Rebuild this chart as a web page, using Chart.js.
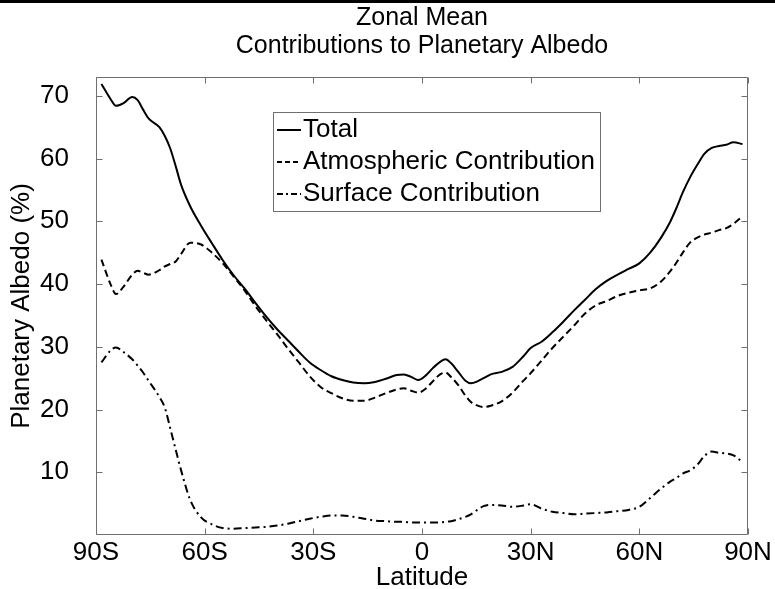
<!DOCTYPE html>
<html>
<head>
<meta charset="utf-8">
<title>Zonal Mean Albedo</title>
<script src="https://cdn.jsdelivr.net/npm/chart.js@4.4.1/dist/chart.umd.min.js"></script>
<style>
  html, body { margin: 0; padding: 0; background: #fff; }
  canvas { display: block; }
</style>
</head>
<body>
<canvas id="albedo" width="775" height="589"></canvas>
<script>
  // zonal means, degrees latitude (south negative)
  const latitudes = [
    -88.5, -86, -84.5, -82.5, -80, -78.5, -77, -75.5, -72.5, -71,
    -69.5, -68, -66.5, -64, -61, -58, -55, -52, -49, -46,
    -43, -40, -37, -34, -31, -28, -25, -22, -19, -16,
    -13, -10, -7, -5, -3, -1, 1, 3, 5, 6.5,
    8, 10, 12, 13.5, 15, 17, 19, 22, 25, 28,
    30, 33, 36, 39, 42, 45, 48, 51, 54, 57,
    60, 63, 66, 68.5, 70, 72, 74, 76, 78, 80,
    82, 84, 86, 88.5
  ];
  const total = [
    71.9, 69.5, 68.4, 68.8, 69.8, 69.3, 67.8, 66.4, 65.0, 63.6,
    61.6, 58.8, 55.8, 52.4, 49.3, 46.5, 43.8, 41.4, 39.3, 37.0,
    34.8, 32.8, 31.0, 29.2, 27.5, 26.3, 25.3, 24.7, 24.3, 24.2,
    24.4, 24.9, 25.5, 25.6, 25.2, 24.7, 25.4, 26.6, 27.6, 28.0,
    27.4, 26.0, 24.6, 24.2, 24.4, 25.0, 25.6, 26.0, 26.8, 28.5,
    29.8, 30.8, 32.3, 34.0, 35.8, 37.5, 39.2, 40.5, 41.5, 42.4,
    43.3, 45.0, 47.4, 49.9, 51.8, 54.6, 57.0, 59.0, 60.8, 61.7,
    62.0, 62.2, 62.6, 62.3
  ];
  const atmospheric = [
    43.9, 40.0, 38.4, 39.5, 41.5, 42.1, 41.8, 41.5, 42.2, 42.8,
    43.2, 43.6, 44.8, 46.6, 46.3, 45.0, 43.3, 41.2, 39.0, 36.5,
    34.2, 32.0, 29.7, 27.5, 25.3, 23.6, 22.6, 21.8, 21.4, 21.4,
    21.9, 22.6, 23.2, 23.4, 23.0, 22.7, 23.3, 24.5, 25.6, 25.9,
    25.2, 23.9, 22.2, 21.2, 20.7, 20.4, 20.6, 21.3, 22.7, 24.6,
    25.8, 27.8, 29.8, 31.6, 33.4, 35.3, 36.6, 37.3, 38.1, 38.6,
    39.0, 39.3, 40.4, 42.0, 43.2, 45.0, 46.6, 47.4, 47.9, 48.2,
    48.6, 48.9, 49.6, 50.8
  ];
  const surface = [
    27.5, 29.4, 29.9, 29.2, 28.0, 27.0, 25.9, 24.6, 22.0, 20.3,
    17.0, 13.6, 10.3, 5.6, 2.8, 1.7, 1.1, 1.0, 1.1, 1.2,
    1.3, 1.5, 1.8, 2.2, 2.6, 2.9, 3.1, 3.1, 2.9, 2.6,
    2.3, 2.2, 2.1, 2.1, 2.0, 2.0, 2.0, 2.0, 2.0, 2.1,
    2.2, 2.5, 2.9, 3.3, 3.9, 4.6, 4.8, 4.7, 4.5, 4.7,
    4.9, 4.2, 3.7, 3.5, 3.3, 3.4, 3.5, 3.6, 3.8, 4.0,
    4.5, 5.9, 7.4, 8.5, 9.0, 9.8, 10.3, 11.2, 12.6, 13.3,
    13.1, 13.0, 12.7, 11.6
  ];

  const latTicks = [-90, -60, -30, 0, 30, 60, 90];
  const latTickLabels = ['90S', '60S', '30S', '0', '30N', '60N', '90N'];
  const albedoTicks = [10, 20, 30, 40, 50, 60, 70];

  const FAMILY = "'Liberation Sans', Arial, Helvetica, sans-serif";
  const AXIS_GRAY = '#6f6f6f';

  function toPoints(values) {
    return latitudes.map((lat, i) => ({ x: lat, y: values[i] }));
  }

  // white page, dark rule along the top edge, axes box with inward ticks
  const axesBox = {
    id: 'axesBox',
    beforeDraw(chart) {
      const ctx = chart.ctx;
      ctx.save();
      ctx.fillStyle = '#fff';
      ctx.fillRect(0, 0, chart.width, chart.height);
      ctx.fillStyle = '#000';
      ctx.fillRect(0, 0, chart.width, 3);
      ctx.restore();
    },
    afterDatasetsDraw(chart) {
      const { ctx, chartArea: a, scales } = chart;
      const L = Math.round(a.left) + 0.5, R = Math.round(a.right) - 0.5;
      const T = Math.round(a.top) + 0.5, B = Math.round(a.bottom) - 0.5;
      const len = 6;
      ctx.save();
      ctx.strokeStyle = AXIS_GRAY;
      ctx.lineWidth = 1;
      ctx.beginPath();
      ctx.rect(L, T, R - L, B - T);
      latTicks.forEach(v => {
        const px = Math.round(scales.x.getPixelForValue(v)) + 0.5;
        ctx.moveTo(px, B); ctx.lineTo(px, B - len);
        ctx.moveTo(px, T); ctx.lineTo(px, T + len);
      });
      albedoTicks.forEach(v => {
        const py = Math.round(scales.y.getPixelForValue(v)) + 0.5;
        ctx.moveTo(L, py); ctx.lineTo(L + len, py);
        ctx.moveTo(R, py); ctx.lineTo(R - len, py);
      });
      ctx.stroke();
      ctx.restore();
    }
  };

  // boxed legend sitting inside the axes
  const insetLegend = {
    id: 'insetLegend',
    afterDraw(chart, args, opts) {
      const ctx = chart.ctx;
      const { left, top, width, height, rowGap, sample } = opts;
      ctx.save();
      ctx.fillStyle = '#fff';
      ctx.fillRect(left, top, width, height);
      ctx.strokeStyle = AXIS_GRAY;
      ctx.lineWidth = 1;
      ctx.strokeRect(left + 0.5, top + 0.5, width, height);
      ctx.font = '26px ' + FAMILY;
      ctx.textBaseline = 'middle';
      ctx.textAlign = 'left';
      chart.data.datasets.forEach((ds, i) => {
        const y = top + 18 + i * rowGap;
        ctx.strokeStyle = '#000';
        ctx.lineWidth = 2;
        ctx.setLineDash(ds.legendDash || []);
        ctx.beginPath();
        ctx.moveTo(left + 4, y);
        ctx.lineTo(left + 4 + sample, y);
        ctx.stroke();
        ctx.setLineDash([]);
        ctx.fillStyle = '#000';
        ctx.fillText(ds.label, left + 6 + sample, y);
      });
      ctx.restore();
    }
  };

  new Chart(document.getElementById('albedo'), {
    type: 'line',
    data: {
      datasets: [
        {
          label: 'Total',
          data: toPoints(total),
          borderColor: '#000',
          borderWidth: 2,
          pointRadius: 0,
          cubicInterpolationMode: 'monotone'
        },
        {
          label: 'Atmospheric Contribution',
          data: toPoints(atmospheric),
          borderColor: '#000',
          borderWidth: 2,
          borderDash: [7, 4],
          legendDash: [5, 3],
          pointRadius: 0,
          cubicInterpolationMode: 'monotone'
        },
        {
          label: 'Surface Contribution',
          data: toPoints(surface),
          borderColor: '#000',
          borderWidth: 2,
          borderDash: [8, 4, 2, 4],
          legendDash: [6, 3, 2, 3],
          pointRadius: 0,
          cubicInterpolationMode: 'monotone'
        }
      ]
    },
    options: {
      responsive: false,
      animation: false,
      layout: { padding: { left: 0, right: 27, top: 0, bottom: 0 } },
      plugins: {
        legend: { display: false },
        tooltip: { enabled: false },
        title: {
          display: true,
          fullSize: false,
          text: ['Zonal Mean', 'Contributions to Planetary Albedo'],
          color: '#000',
          font: { family: FAMILY, size: 25, weight: 'normal', lineHeight: 28 / 25 },
          padding: { top: 4, bottom: 17 }
        },
        insetLegend: { left: 273, top: 112, width: 327, height: 99, rowGap: 32, sample: 24 }
      },
      scales: {
        x: {
          type: 'linear',
          min: -90,
          max: 90,
          afterBuildTicks: s => { s.ticks = latTicks.map(v => ({ value: v })); },
          afterFit: s => { s.height = 54; },
          grid: { display: false, drawTicks: false },
          border: { display: false },
          ticks: {
            color: '#000',
            font: { family: FAMILY, size: 26 },
            padding: 2,
            maxRotation: 0,
            autoSkip: false,
            callback: v => latTickLabels[latTicks.indexOf(v)]
          },
          title: {
            display: true,
            text: 'Latitude',
            color: '#000',
            font: { family: FAMILY, size: 26, lineHeight: 0.85 },
            padding: { top: 0, bottom: 0 }
          }
        },
        y: {
          min: 0,
          max: 73,
          afterBuildTicks: s => { s.ticks = albedoTicks.map(v => ({ value: v })); },
          afterFit: s => { s.width = 96; },
          grid: { display: false, drawTicks: false },
          border: { display: false },
          ticks: {
            color: '#000',
            font: { family: FAMILY, size: 26 },
            padding: 27
          },
          title: {
            display: true,
            text: 'Planetary Albedo (%)',
            color: '#000',
            font: { family: FAMILY, size: 26, lineHeight: 1.0 },
            padding: { top: 9, bottom: 0 }
          }
        }
      }
    },
    plugins: [axesBox, insetLegend]
  });
</script>
</body>
</html>
